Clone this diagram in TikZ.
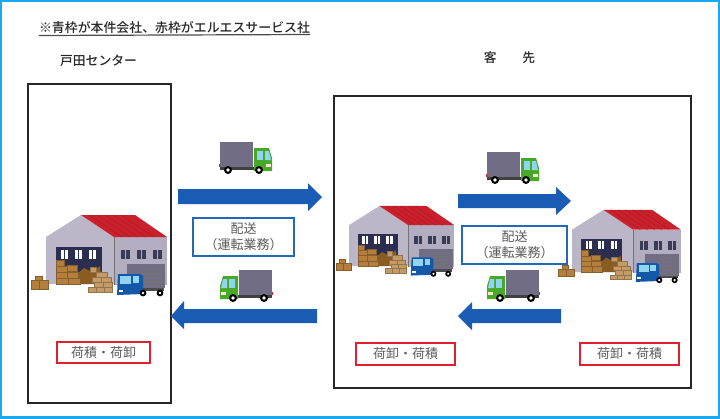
\documentclass[tikz,border=0pt]{standalone}
\usepackage{fontspec}
\newfontfamily\jp{Noto Sans CJK JP}
\newfontfamily\jpm{Noto Sans CJK JP Medium}
\definecolor{frameC}{HTML}{1AA8EE}
\definecolor{arrowC}{HTML}{1A5CB4}
\definecolor{boxB}{HTML}{2468B8}
\definecolor{boxR}{HTML}{E0202C}
\definecolor{txtG}{HTML}{5A5A5A}
\definecolor{wallC}{HTML}{BBB6C8}
\definecolor{wallD}{HTML}{B2ADC0}
\definecolor{roofC}{HTML}{C9202C}
\definecolor{roofD}{HTML}{A81A28}
\definecolor{navyC}{HTML}{2C2E50}
\definecolor{winC}{HTML}{3A3C55}
\definecolor{cartA}{HTML}{B47E3C}
\definecolor{cartB}{HTML}{8A5C22}
\definecolor{cartC}{HTML}{C49A66}
\definecolor{cargoC}{HTML}{716D84}
\definecolor{greenC}{HTML}{48A828}
\definecolor{blueT}{HTML}{1458A8}
\definecolor{glassC}{HTML}{90D4F0}
\tikzset{
  label text/.style={inner sep=0pt, text=black!85},
  blockarrow/.style={fill=arrowC, draw=none},
  bluebox/.style={draw=boxB, line width=2pt, fill=white},
  redbox/.style={draw=boxR, line width=2pt, fill=white},
  blackframe/.style={draw=black!85, line width=1.6pt},
  carton/.style={fill=#1, draw=#1!75!black, line width=0.4pt},
  carton/.default=cartA
}
% warehouse: #1 x, #2 y of the lower left wall corner, #3 scale
\newcommand{\wareh}[3]{%
\begin{scope}[shift={(#1,#2)},scale=#3]
  \fill[wallC] (0,-47) -- (35,-69) -- (68,-47) -- (68,0) -- (0,0) -- cycle;
  \fill[wallD] (68,-47) rectangle (121,1);
  \fill[roofC] (35,-69) -- (89,-69) -- (121,-47) -- (68,-47) -- cycle;
  \foreach \t in {0.15,0.3,...,0.9}
    \draw[roofD,line width=0.4pt] ($(35,-69)!\t!(89,-69)$) -- ($(68,-47)!\t!(121,-47)$);
  \draw[black!55,line width=0.6pt] (68,-47) -- (68,1);
  \fill[navyC] (10,-37) rectangle (56,0);
  \foreach \a in {15,29,43} {
    \fill[white] (\a,-34) rectangle ++(7,8.5);
    \draw[navyC,line width=0.7pt] (\a+3.5,-34) -- ++(0,8.5);
  }
  \foreach \a in {75,91,107} {
    \fill[winC] (\a,-34) rectangle ++(9,9);
    \draw[wallD,line width=0.4pt] (\a+4.5,-34) -- ++(0,9);
  }
  % cartons in the door
  \fill[cartB] (31,-10) -- (38,-16) -- (46,-12) -- (54,-18) -- (56,0) -- (31,0) -- cycle;
  \foreach \a/\b/\w in {10/-24/8,10/-18/11,10/-12/11,21/-12/11,10/-6/12,22/-6/12,21/-19/10}
    \draw[carton] (\a,\b) rectangle ++(\w,6);
  % cartons in front of the door
  \foreach \a/\b/\w in {44/-17/6,50/-12/11,46/-7/9,55/-7/10,48/-2/9,57/-2/9,42/3/8,50/3/8,58/3/8}
    \draw[carton=cartC] (\a,\b) rectangle ++(\w,5.5);
  % cartons at the left
  \draw[carton] (-11,-8) rectangle ++(7,4.5);
  \draw[carton] (-15,-3.5) rectangle ++(8,8.5);
  \draw[carton] (-7,-3.5) rectangle ++(9,8.5);
  % blue truck
  \fill[cargoC] (81,-20) rectangle (119,4);
  \foreach \l in {-15,-11,...,1}
    \draw[black!55,line width=0.4pt] (97,\l) -- (117,\l);
  \fill[black!70] (90,4) rectangle (118,7);
  \fill[blueT] (72,-10) -- (94,-10) -- (97,-8) -- (97,10) -- (71,11) -- cycle;
  \fill[glassC] (74,-8) rectangle (85,0);
  \fill[glassC] (87,-8) rectangle (93,-1);
  \fill[white] (72.5,6) rectangle (77,8);
  \foreach \c in {97,114} {
    \fill[black] (\c,9) circle (3.4);
    \fill[white] (\c,9) circle (1.4);
  }
\end{scope}}
% green truck: #1 x, #2 y of the cargo box corner, #3 1 or -1 for its direction
\newcommand{\gtruck}[3]{%
\begin{scope}[shift={(#1,#2)},xscale=#3]
  \fill[cargoC] (0,0) rectangle (33,25);
  \fill[black!75] (0,25) rectangle (34,28);
  \fill[roofC] (-1,22) rectangle (0,25);
  \fill[greenC] (34,6) -- (49,6) -- (52,16) -- (52,29) -- (34,29) -- cycle;
  \fill[glassC] (37,9) rectangle (43,18);
  \fill[glassC] (45,9) -- (49,9) -- (51,18) -- (45,18) -- cycle;
  \fill[white!80!orange] (46,22) rectangle (51,25);
  \foreach \c in {8,39} {
    \fill[black] (\c,28) circle (4);
    \fill[white] (\c,28) circle (1.8);
  }
\end{scope}}
\usetikzlibrary{calc}
\begin{document}
\begin{tikzpicture}[x=1pt,y=-1pt]
\useasboundingbox (0,0) rectangle (720,418);
\fill[white] (0,0) rectangle (720,418);
\draw[frameC,line width=4pt] (0,0) rectangle (720,418);
% frames
\draw[blackframe] (28,84) rectangle (171,403);
\draw[blackframe] (334,96) rectangle (691,388);
% headings
\node[label text, minimum width=271pt, font=\jpm\fontsize{12.9}{14}\selectfont] (note) at (174.5,28) {※青枠が本件会社、赤枠がエルエスサービス社};
\draw[black!70,line width=1.2pt] ([yshift=-1pt]note.base west |- 0,34.5) -- (note.east |- 0,34.5);
\node[label text, font=\jpm\fontsize{12.8}{14}\selectfont] (toda) at (98.5,61) {戸田センター};
\node[label text, font=\jpm\fontsize{12.8}{14}\selectfont] (kyaku) at (509.5,58) {客\hspace{2em}先};
% warehouses
\wareh{46}{284}{1}
\wareh{349}{266}{0.87}
\wareh{572}{272}{0.9}
% trucks
\gtruck{220}{142}{1}
\gtruck{272}{270}{-1}
\gtruck{487}{152}{1}
\gtruck{539}{270}{-1}
% block arrows
\fill[blockarrow] (178,189) -- (308,189) -- (308,183) -- (322,197) -- (308,211) -- (308,204) -- (178,204) -- cycle;
\fill[blockarrow] (317,309) -- (184,309) -- (184,301) -- (171,316) -- (184,329) -- (184,323) -- (317,323) -- cycle;
\fill[blockarrow] (458,194) -- (556,194) -- (556,187) -- (571,201) -- (556,215) -- (556,208) -- (458,208) -- cycle;
\fill[blockarrow] (561,309) -- (472,309) -- (472,302) -- (458,316) -- (472,330) -- (472,323) -- (561,323) -- cycle;
% text boxes
\node[bluebox, minimum width=101pt, minimum height=38pt, inner sep=0pt, align=center, font=\jp\fontsize{13}{16}\selectfont, text=txtG] (work1) at (243.5,237) {配送\\（運転業務）};
\node[bluebox, minimum width=105pt, minimum height=38pt, inner sep=0pt, align=center, font=\jp\fontsize{13}{16}\selectfont, text=txtG] (work2) at (514.5,245) {配送\\（運転業務）};
\node[redbox, minimum width=93pt, minimum height=21pt, inner sep=0pt, font=\jp\fontsize{13}{14}\selectfont, text=txtG] (load1) at (103.5,352.5) {荷積・荷卸};
\node[redbox, minimum width=99pt, minimum height=22pt, inner sep=0pt, font=\jp\fontsize{13}{14}\selectfont, text=txtG] (load2) at (405.5,354) {荷卸・荷積};
\node[redbox, minimum width=99pt, minimum height=22pt, inner sep=0pt, font=\jp\fontsize{13}{14}\selectfont, text=txtG] (load3) at (629.5,354) {荷卸・荷積};
\end{tikzpicture}
\end{document}
